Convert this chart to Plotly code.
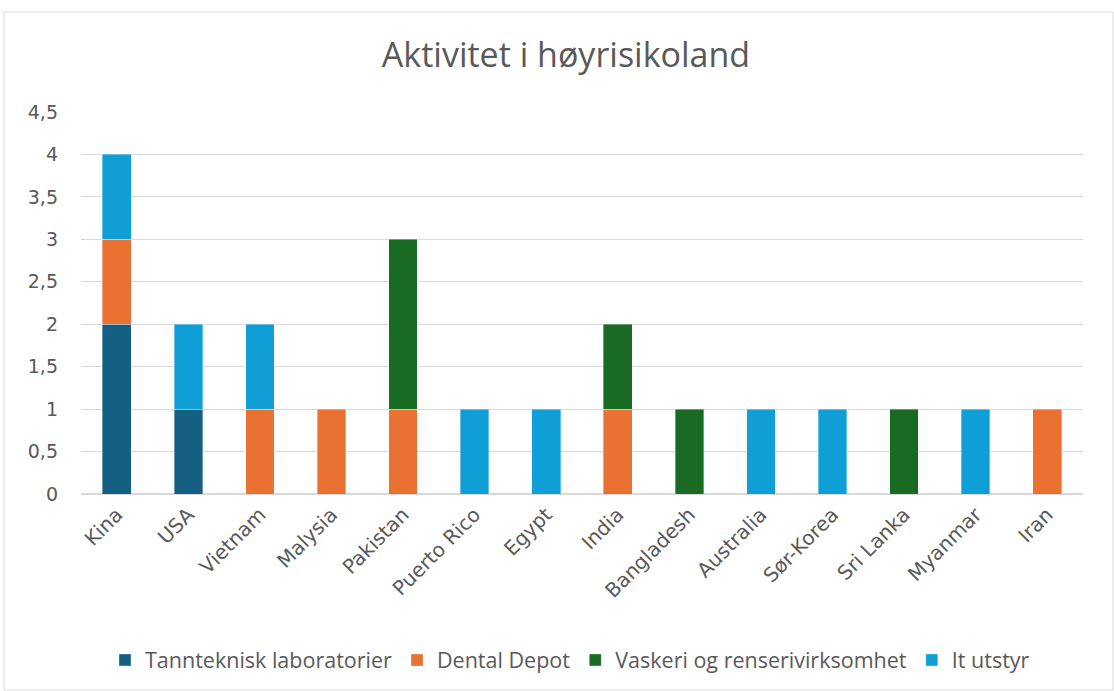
import plotly.graph_objects as go

countries = ["Kina", "USA", "Vietnam", "Malysia", "Pakistan", "Puerto Rico", "Egypt",
             "India", "Bangladesh", "Australia", "Sør-Korea", "Sri Lanka", "Myanmar", "Iran"]
tannteknisk = [2, 1, 0, 0, 0, 0, 0, 0, 0, 0, 0, 0, 0, 0]
dental_depot = [1, 0, 1, 1, 1, 0, 0, 1, 0, 0, 0, 0, 0, 1]
vaskeri = [0, 0, 0, 0, 2, 0, 0, 1, 1, 0, 0, 1, 0, 0]
it_utstyr = [1, 1, 1, 0, 0, 1, 1, 0, 0, 1, 1, 0, 1, 0]
y_ticks = [0, 0.5, 1, 1.5, 2, 2.5, 3, 3.5, 4, 4.5]
y_tick_labels = ["0", "0,5", "1", "1,5", "2", "2,5", "3", "3,5", "4", "4,5"]

series = [
    ("Tannteknisk laboratorier", tannteknisk, "#156082"),
    ("Dental Depot", dental_depot, "#E97132"),
    ("Vaskeri og renserivirksomhet", vaskeri, "#196B24"),
    ("It utstyr", it_utstyr, "#0F9ED5"),
]

fig = go.Figure()
for name, vals, col in series:
    fig.add_trace(go.Bar(
        x=countries, y=[v if v else None for v in vals], name=name,
        marker=dict(color=col, line=dict(color="rgba(255,255,255,0.5)", width=0.7)),
        width=0.4,
    ))

W, H = 1114, 691
L, R, T, B = 81, 31, 112, 197
pw, ph = W - L - R, H - T - B

def px(x):
    return (x - L) / pw

def py(y):
    return 1 - (y - T) / ph

fig.add_shape(type="rect", xref="paper", yref="paper",
              x0=px(4), x1=px(1113), y0=py(690), y1=py(12),
              line=dict(color="#D9D9D9", width=1), fillcolor="rgba(0,0,0,0)", layer="below")

font = "'Open Sans', Roboto, sans-serif"
tickfont = "'DejaVu Sans', 'Open Sans', sans-serif"
fig.update_layout(
    barmode="stack",
    width=W, height=H,
    margin=dict(l=L, r=R, t=T, b=B, autoexpand=False),
    paper_bgcolor="white", plot_bgcolor="white",
    title=dict(text="Aktivitet i høyrisikoland", x=566 / W, xanchor="center",
               y=1 - 55 / H, yanchor="middle",
               font=dict(family=font, size=34, color="#595959")),
    font=dict(family=font, color="#595959"),
    xaxis=dict(tickangle=-45, tickfont=dict(family=tickfont, size=20, color="#595959"),
               showgrid=False, showline=True, linecolor="#D9D9D9", linewidth=1,
               ticks="", ticklen=0),
    yaxis=dict(range=[0, 4.5], tickvals=y_ticks, ticktext=y_tick_labels,
               tickfont=dict(family=tickfont, size=19, color="#595959"),
               showgrid=True, gridcolor="#D9D9D9", gridwidth=1,
               zeroline=True, zerolinecolor="#D9D9D9", showline=False, ticks="",
               ticklabelstandoff=22),
    legend=dict(orientation="h", x=px(570), xanchor="center", y=py(660), yanchor="middle",
                font=dict(size=21.5, color="#595959"), traceorder="normal",
                itemwidth=30, tracegroupgap=0),
    bargap=0.6,
    showlegend=True,
)

fig.write_html("out.html", config={"displayModeBar": False},
               post_script="document.body.style.margin='0';")
